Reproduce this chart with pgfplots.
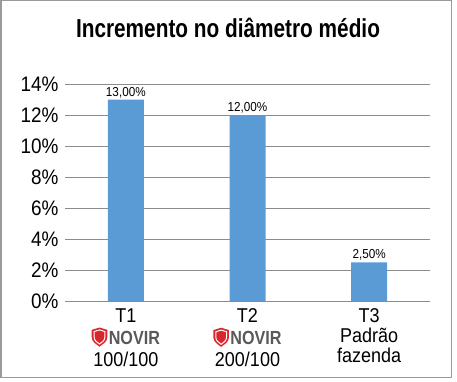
\documentclass[border=0pt]{standalone}
\usepackage{fontspec}
\setmainfont{Liberation Sans}[FakeStretch=0.9]
\newfontfamily\titlefont{Liberation Sans}[FakeStretch=0.8]
\newfontfamily\novirfont{Liberation Sans}[FakeStretch=0.85]
\usepackage{pgfplots}
\pgfplotsset{compat=1.18}
\definecolor{barblue}{HTML}{5B9BD5}
\definecolor{gridgray}{HTML}{8C8C8C}
\definecolor{framegray}{HTML}{9A9A9A}
\definecolor{shieldred}{HTML}{D7282F}
\definecolor{novirgray}{HTML}{58595B}
\newcommand{\novir}{\tikz[baseline=0pt,x=1.2pt,y=1.2pt]{%
  \fill[shieldred] (0,12) -- (6.5,14) -- (13,12) -- (13,6) .. controls (13,2) and (9,0) .. (6.5,-2) .. controls (4,0) and (0,2) .. (0,6) -- cycle;
  \draw[white,line width=1pt] (2,10.6) -- (6.5,12) -- (11,10.6) -- (11,6.2) .. controls (11,3.2) and (8.5,1.5) .. (6.5,0.2) .. controls (4.5,1.5) and (2,3.2) .. (2,6.2) -- cycle;
  \fill[shieldred] (3.2,9.8) -- (6.5,10.8) -- (9.8,9.8) -- (9.8,6.3) .. controls (9.8,4) and (8,2.7) .. (6.5,1.7) .. controls (5,2.7) and (3.2,4) .. (3.2,6.3) -- cycle;
}\hspace{1.5pt}{\novirfont\bfseries\fontsize{19}{19}\selectfont\textcolor{novirgray}{NOVIR}}}
\begin{document}
\begin{tikzpicture}[x=1pt,y=1pt]
\useasboundingbox (0,0) rectangle (457,381);
\draw[framegray,line width=1.5pt] (0.75,3.5) rectangle (451.5,380.25);
\node[font=\titlefont\bfseries\fontsize{26}{28}\selectfont] at (228,353) {Incremento no diâmetro médio};
\begin{axis}[
  at={(65pt,80pt)}, anchor=south west,
  scale only axis, width=365pt, height=217pt,
  xmin=-0.5, xmax=2.5, ymin=0, ymax=14,
  ytick={0,2,...,14},
  yticklabel={\pgfmathprintnumber{\tick}\%},
  /pgf/number format/assume math mode=true,
  yticklabel style={font=\fontsize{21}{24}\selectfont, xshift=-3pt},
  ymajorgrids, grid style={gridgray, line width=1pt},
  axis line style={draw=none},
  major tick length=0pt,
  xtick={0,1,2},
  xticklabels={{T1\\\novir\\100/100},{T2\\\novir\\200/100},{T3\\[-2pt]Padrão\\[-2pt]fazenda}},
  xticklabel style={align=center, font=\fontsize{20}{22}\selectfont, yshift=-4pt},
  ybar, bar width=36pt,
  nodes near coords={\pgfmathprintnumber[fixed,fixed zerofill,precision=2,use comma]{\pgfplotspointmeta}\%},
  nodes near coords style={font=\fontsize{13}{13}\selectfont, inner sep=1.5pt},
]
\addplot[fill=barblue, draw=none] coordinates {(0,13) (1,12) (2,2.5)};
\end{axis}
\end{tikzpicture}
\end{document}
